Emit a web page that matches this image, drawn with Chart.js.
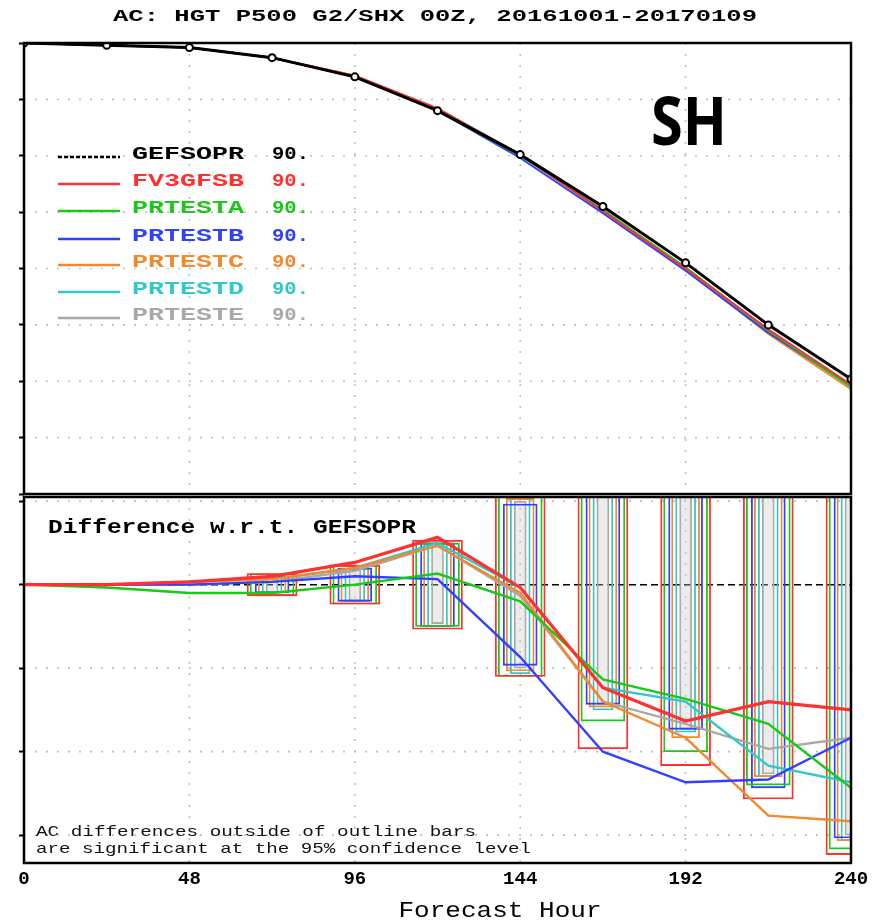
<!DOCTYPE html>
<html>
<head>
<meta charset="utf-8">
<script src="https://cdn.jsdelivr.net/npm/chart.js@4.4.0/dist/chart.umd.min.js"></script>
<style>
body { margin: 0; background: #fff; width: 886px; height: 924px; position: relative; overflow: hidden; }
canvas { position: absolute; left: 0; }
#top { top: 0; }
#bot { top: 487px; }
</style>
</head>
<body>
<canvas id="top" width="886" height="500"></canvas>
<canvas id="bot" width="886" height="437"></canvas>
<script>
// forecast hours
const hours = [0, 24, 48, 72, 96, 120, 144, 168, 192, 216, 240];
const barHours = [72, 96, 120, 144, 168, 192, 216, 240];
const names = ['GEFSOPR', 'FV3GFSB', 'PRTESTA', 'PRTESTB', 'PRTESTC', 'PRTESTD', 'PRTESTE'];
const legendValues = ['90.', '90.', '90.', '90.', '90.', '90.', '90.'];

// anomaly correlation (top panel)
const acGEFSOPR = [1.000, 0.998, 0.996, 0.987, 0.970, 0.940, 0.901, 0.855, 0.805, 0.750, 0.702];
const acFV3GFSB = [1.000, 0.998, 0.996, 0.987, 0.971, 0.942, 0.901, 0.851, 0.800, 0.746, 0.697];
const acPRTESTA = [1.000, 0.998, 0.996, 0.987, 0.970, 0.940, 0.900, 0.852, 0.801, 0.745, 0.695];
const acPRTESTB = [1.000, 0.998, 0.996, 0.987, 0.970, 0.940, 0.898, 0.849, 0.798, 0.743, 0.696];
const acPRTESTC = [1.000, 0.998, 0.996, 0.987, 0.971, 0.941, 0.901, 0.851, 0.799, 0.742, 0.693];
const acPRTESTD = [1.000, 0.998, 0.996, 0.987, 0.971, 0.942, 0.901, 0.851, 0.801, 0.744, 0.695];
const acPRTESTE = [1.000, 0.998, 0.996, 0.987, 0.971, 0.941, 0.901, 0.851, 0.800, 0.744, 0.696];

// difference w.r.t. GEFSOPR (bottom panel)
const dFV3GFSB = [0, 0.0000, 0.0001, 0.0003, 0.0008, 0.0017, -0.0001, -0.0037, -0.0049, -0.0042, -0.0045];
const dPRTESTA = [0, -0.0001, -0.0003, -0.0003, 0.0000, 0.0004, -0.0006, -0.0034, -0.0041, -0.0050, -0.0073];
const dPRTESTB = [0, 0.0000, 0.0000, 0.0001, 0.0003, 0.0002, -0.0026, -0.0060, -0.0071, -0.0070, -0.0055];
const dPRTESTC = [0, 0.0000, 0.0001, 0.0002, 0.0006, 0.0014, -0.0003, -0.0042, -0.0055, -0.0083, -0.0085];
const dPRTESTD = [0, 0.0000, 0.0001, 0.0002, 0.0006, 0.0015, -0.0001, -0.0037, -0.0042, -0.0065, -0.0071];
const dPRTESTE = [0, 0.0000, 0.0000, 0.0001, 0.0005, 0.0014, -0.0004, -0.0042, -0.0050, -0.0059, -0.0055];

// 95% confidence half-widths (outline bars)
const ciFV3GFSB = [0.0004, 0.0007, 0.0016, 0.0033, 0.0059, 0.0065, 0.0077, 0.0097];
const ciPRTESTA = [0.0004, 0.0007, 0.0015, 0.0033, 0.0049, 0.0060, 0.0072, 0.0095];
const ciPRTESTB = [0.0003, 0.0006, 0.0015, 0.0029, 0.0043, 0.0052, 0.0073, 0.0091];
const ciPRTESTC = [0.0003, 0.0006, 0.0015, 0.0031, 0.0044, 0.0055, 0.0069, 0.0092];
const ciPRTESTD = [0.0003, 0.0006, 0.0015, 0.0032, 0.0045, 0.0053, 0.0069, 0.0092];
const ciPRTESTE = [0.0003, 0.0006, 0.0014, 0.0030, 0.0043, 0.0052, 0.0068, 0.0090];

const diffTicks = [0.003, 0, -0.003, -0.006, -0.009];

const colors = ['#000000', '#ff3030', '#19c819', '#3040ff', '#f08a30', '#30c8c8', '#a8a8a8'];
const barWidths = [50, 44, 34, 28, 20, 12];
const monoFont = '"Liberation Mono", "DejaVu Sans Mono", monospace';

function pts(xs, ys) {
    return xs.map((x, i) => ({x: x, y: ys[i]}));
}
function ciBars(xs, c) {
    return xs.map((x, i) => ({x: x, y: [-c[i], c[i]]}));
}

// text squeezed/stretched to a given width (GrADS fonts are wide)
function wideText(ctx, str, x, y, font, color, width, align) {
    ctx.save();
    ctx.font = font;
    ctx.fillStyle = color;
    ctx.textBaseline = 'middle';
    ctx.textAlign = 'left';
    let w = ctx.measureText(str).width;
    let x0 = align === 'center' ? x - width / 2 : x;
    ctx.translate(x0, y);
    ctx.scale(width / w, 1);
    ctx.fillText(str, 0, 0);
    ctx.restore();
}

function frame(ctx, a) {
    ctx.save();
    ctx.strokeStyle = '#000';
    ctx.lineWidth = 2.5;
    ctx.strokeRect(a.left, a.top, a.right - a.left, a.bottom - a.top);
    ctx.restore();
}

// dotted grid lines at the scales' own ticks
const dottedGrid = {
    id: 'dottedGrid',
    beforeDatasetsDraw(chart) {
        const ctx = chart.ctx;
        const a = chart.chartArea;
        ctx.save();
        ctx.strokeStyle = '#bfbfbf';
        ctx.lineWidth = 1.6;
        ctx.setLineDash([2, 9]);
        chart.scales.x.ticks.forEach(t => {
            const px = chart.scales.x.getPixelForValue(t.value);
            if (px <= a.left + 1 || px >= a.right - 1) return;
            ctx.beginPath();
            ctx.moveTo(px, a.top);
            ctx.lineTo(px, a.bottom);
            ctx.stroke();
        });
        chart.scales.y.ticks.forEach(t => {
            const py = chart.scales.y.getPixelForValue(t.value);
            if (py <= a.top + 1 || py >= a.bottom - 1) return;
            ctx.beginPath();
            ctx.moveTo(a.left, py);
            ctx.lineTo(a.right, py);
            ctx.stroke();
        });
        ctx.restore();
    }
};

const noGrid = {color: 'rgba(0,0,0,0)', drawTicks: false};
const yGrid = {color: 'rgba(0,0,0,0)', drawTicks: true, tickLength: 5, tickColor: '#000', tickWidth: 2};

const topPlugin = {
    id: 'topText',
    afterDraw(chart) {
        const ctx = chart.ctx;
        frame(ctx, chart.chartArea);
        wideText(ctx, 'AC: HGT P500 G2/SHX 00Z, 20161001-20170109', 435, 17, 'bold 17px ' + monoFont, '#000', 644, 'center');
        const rows = [154, 181, 208, 236, 262, 289, 315];
        for (let i = 0; i < names.length; i++) {
            ctx.save();
            ctx.strokeStyle = colors[i];
            ctx.lineWidth = 2.5;
            if (i === 0) ctx.setLineDash([4, 2]);
            ctx.beginPath();
            ctx.moveTo(58, rows[i] + 3);
            ctx.lineTo(120, rows[i] + 3);
            ctx.stroke();
            ctx.restore();
            wideText(ctx, names[i], 132, rows[i], 'bold 18px ' + monoFont, colors[i], 112, 'left');
            wideText(ctx, legendValues[i], 272, rows[i], 'bold 18px ' + monoFont, colors[i], 37, 'left');
        }
        ctx.save();
        ctx.font = 'bold 66px "Open Sans", "Noto Sans", sans-serif';
        ctx.fillStyle = '#000';
        ctx.textAlign = 'left';
        ctx.textBaseline = 'alphabetic';
        const w = ctx.measureText('SH').width;
        ctx.translate(651, 145);
        ctx.scale(76 / w, 1);
        ctx.fillText('SH', 0, 0);
        ctx.restore();
    }
};

const botPlugin = {
    id: 'botText',
    beforeDatasetsDraw(chart) {
        const ctx = chart.ctx;
        const a = chart.chartArea;
        const y0 = chart.scales.y.getPixelForValue(0);
        ctx.save();
        ctx.strokeStyle = '#000';
        ctx.lineWidth = 1.5;
        ctx.setLineDash([7, 4]);
        ctx.beginPath();
        ctx.moveTo(a.left, y0);
        ctx.lineTo(a.right, y0);
        ctx.stroke();
        ctx.restore();
    },
    afterDraw(chart) {
        const ctx = chart.ctx;
        frame(ctx, chart.chartArea);
        wideText(ctx, 'Difference w.r.t. GEFSOPR', 48, 41, 'bold 20px ' + monoFont, '#000', 368, 'left');
        wideText(ctx, 'AC differences outside of outline bars', 36, 345, '15px ' + monoFont, '#111', 440, 'left');
        wideText(ctx, 'are significant at the 95% confidence level', 36, 362, '15px ' + monoFont, '#111', 495, 'left');
        wideText(ctx, 'Forecast Hour', 500, 424, '22px ' + monoFont, '#000', 203, 'center');
    }
};

// top panel: anomaly correlation
const acSeries = [acGEFSOPR, acFV3GFSB, acPRTESTA, acPRTESTB, acPRTESTC, acPRTESTD, acPRTESTE];
const topSets = acSeries.map((s, i) => ({
    label: names[i],
    data: pts(hours, s),
    borderColor: colors[i],
    backgroundColor: colors[i],
    borderWidth: i === 0 ? 3 : 2,
    pointRadius: i === 0 ? 3.5 : 0,
    pointBackgroundColor: '#fff',
    pointBorderColor: '#000',
    pointBorderWidth: 2,
    tension: 0,
    order: i
}));

new Chart(document.getElementById('top').getContext('2d'), {
    type: 'line',
    data: {datasets: topSets},
    options: {
        responsive: false,
        animation: false,
        layout: {padding: {top: 43, right: 35, left: 0, bottom: 0}},
        plugins: {legend: {display: false}, tooltip: {enabled: false}, title: {display: false}},
        scales: {
            x: {
                type: 'linear', min: 0, max: 240, offset: false,
                ticks: {display: false, stepSize: 48},
                grid: noGrid,
                border: {display: false},
                afterFit: (s) => { s.height = 3; }
            },
            y: {
                type: 'linear', min: 0.6, max: 1.0,
                ticks: {display: false, stepSize: 0.05},
                grid: yGrid,
                border: {display: false},
                afterFit: (s) => { s.width = 24; }
            }
        }
    },
    plugins: [dottedGrid, topPlugin]
});

// bottom panel: differences and confidence bars
const diffSeries = [dFV3GFSB, dPRTESTA, dPRTESTB, dPRTESTC, dPRTESTD, dPRTESTE];
const ciSeries = [ciFV3GFSB, ciPRTESTA, ciPRTESTB, ciPRTESTC, ciPRTESTD, ciPRTESTE];
const botSets = [];
diffSeries.forEach((s, i) => {
    botSets.push({
        type: 'line',
        label: names[i + 1],
        data: pts(hours, s),
        borderColor: colors[i + 1],
        backgroundColor: colors[i + 1],
        borderWidth: i === 0 ? 3.2 : 2.4,
        pointRadius: 0,
        tension: 0,
        order: i + 1
    });
});
ciSeries.forEach((c, i) => {
    botSets.push({
        type: 'bar',
        label: names[i + 1] + ' 95%',
        data: ciBars(barHours, c),
        borderColor: colors[i + 1],
        backgroundColor: i === 5 ? 'rgba(200,200,200,0.35)' : 'rgba(0,0,0,0)',
        borderWidth: 1.2,
        borderSkipped: false,
        barThickness: barWidths[i],
        grouped: false,
        order: 20 + i
    });
});

new Chart(document.getElementById('bot').getContext('2d'), {
    type: 'line',
    data: {datasets: botSets},
    options: {
        responsive: false,
        animation: false,
        layout: {padding: {top: 10, right: 35, left: 0, bottom: 0}},
        plugins: {legend: {display: false}, tooltip: {enabled: false}},
        scales: {
            x: {
                type: 'linear', min: 0, max: 240, offset: false,
                ticks: {stepSize: 48, padding: 5, color: '#000', font: {family: monoFont, size: 19, weight: 'bold'}, maxRotation: 0},
                grid: {color: 'rgba(0,0,0,0)', drawTicks: false, offset: false},
                border: {display: false},
                afterFit: (s) => { s.height = 61; }
            },
            y: {
                type: 'linear', min: -0.01, max: 0.00315,
                ticks: {display: false},
                afterBuildTicks: (s) => { s.ticks = diffTicks.map(v => ({value: v})); },
                grid: yGrid,
                border: {display: false},
                afterFit: (s) => { s.width = 24; }
            }
        }
    },
    plugins: [dottedGrid, botPlugin]
});
</script>
</body>
</html>
